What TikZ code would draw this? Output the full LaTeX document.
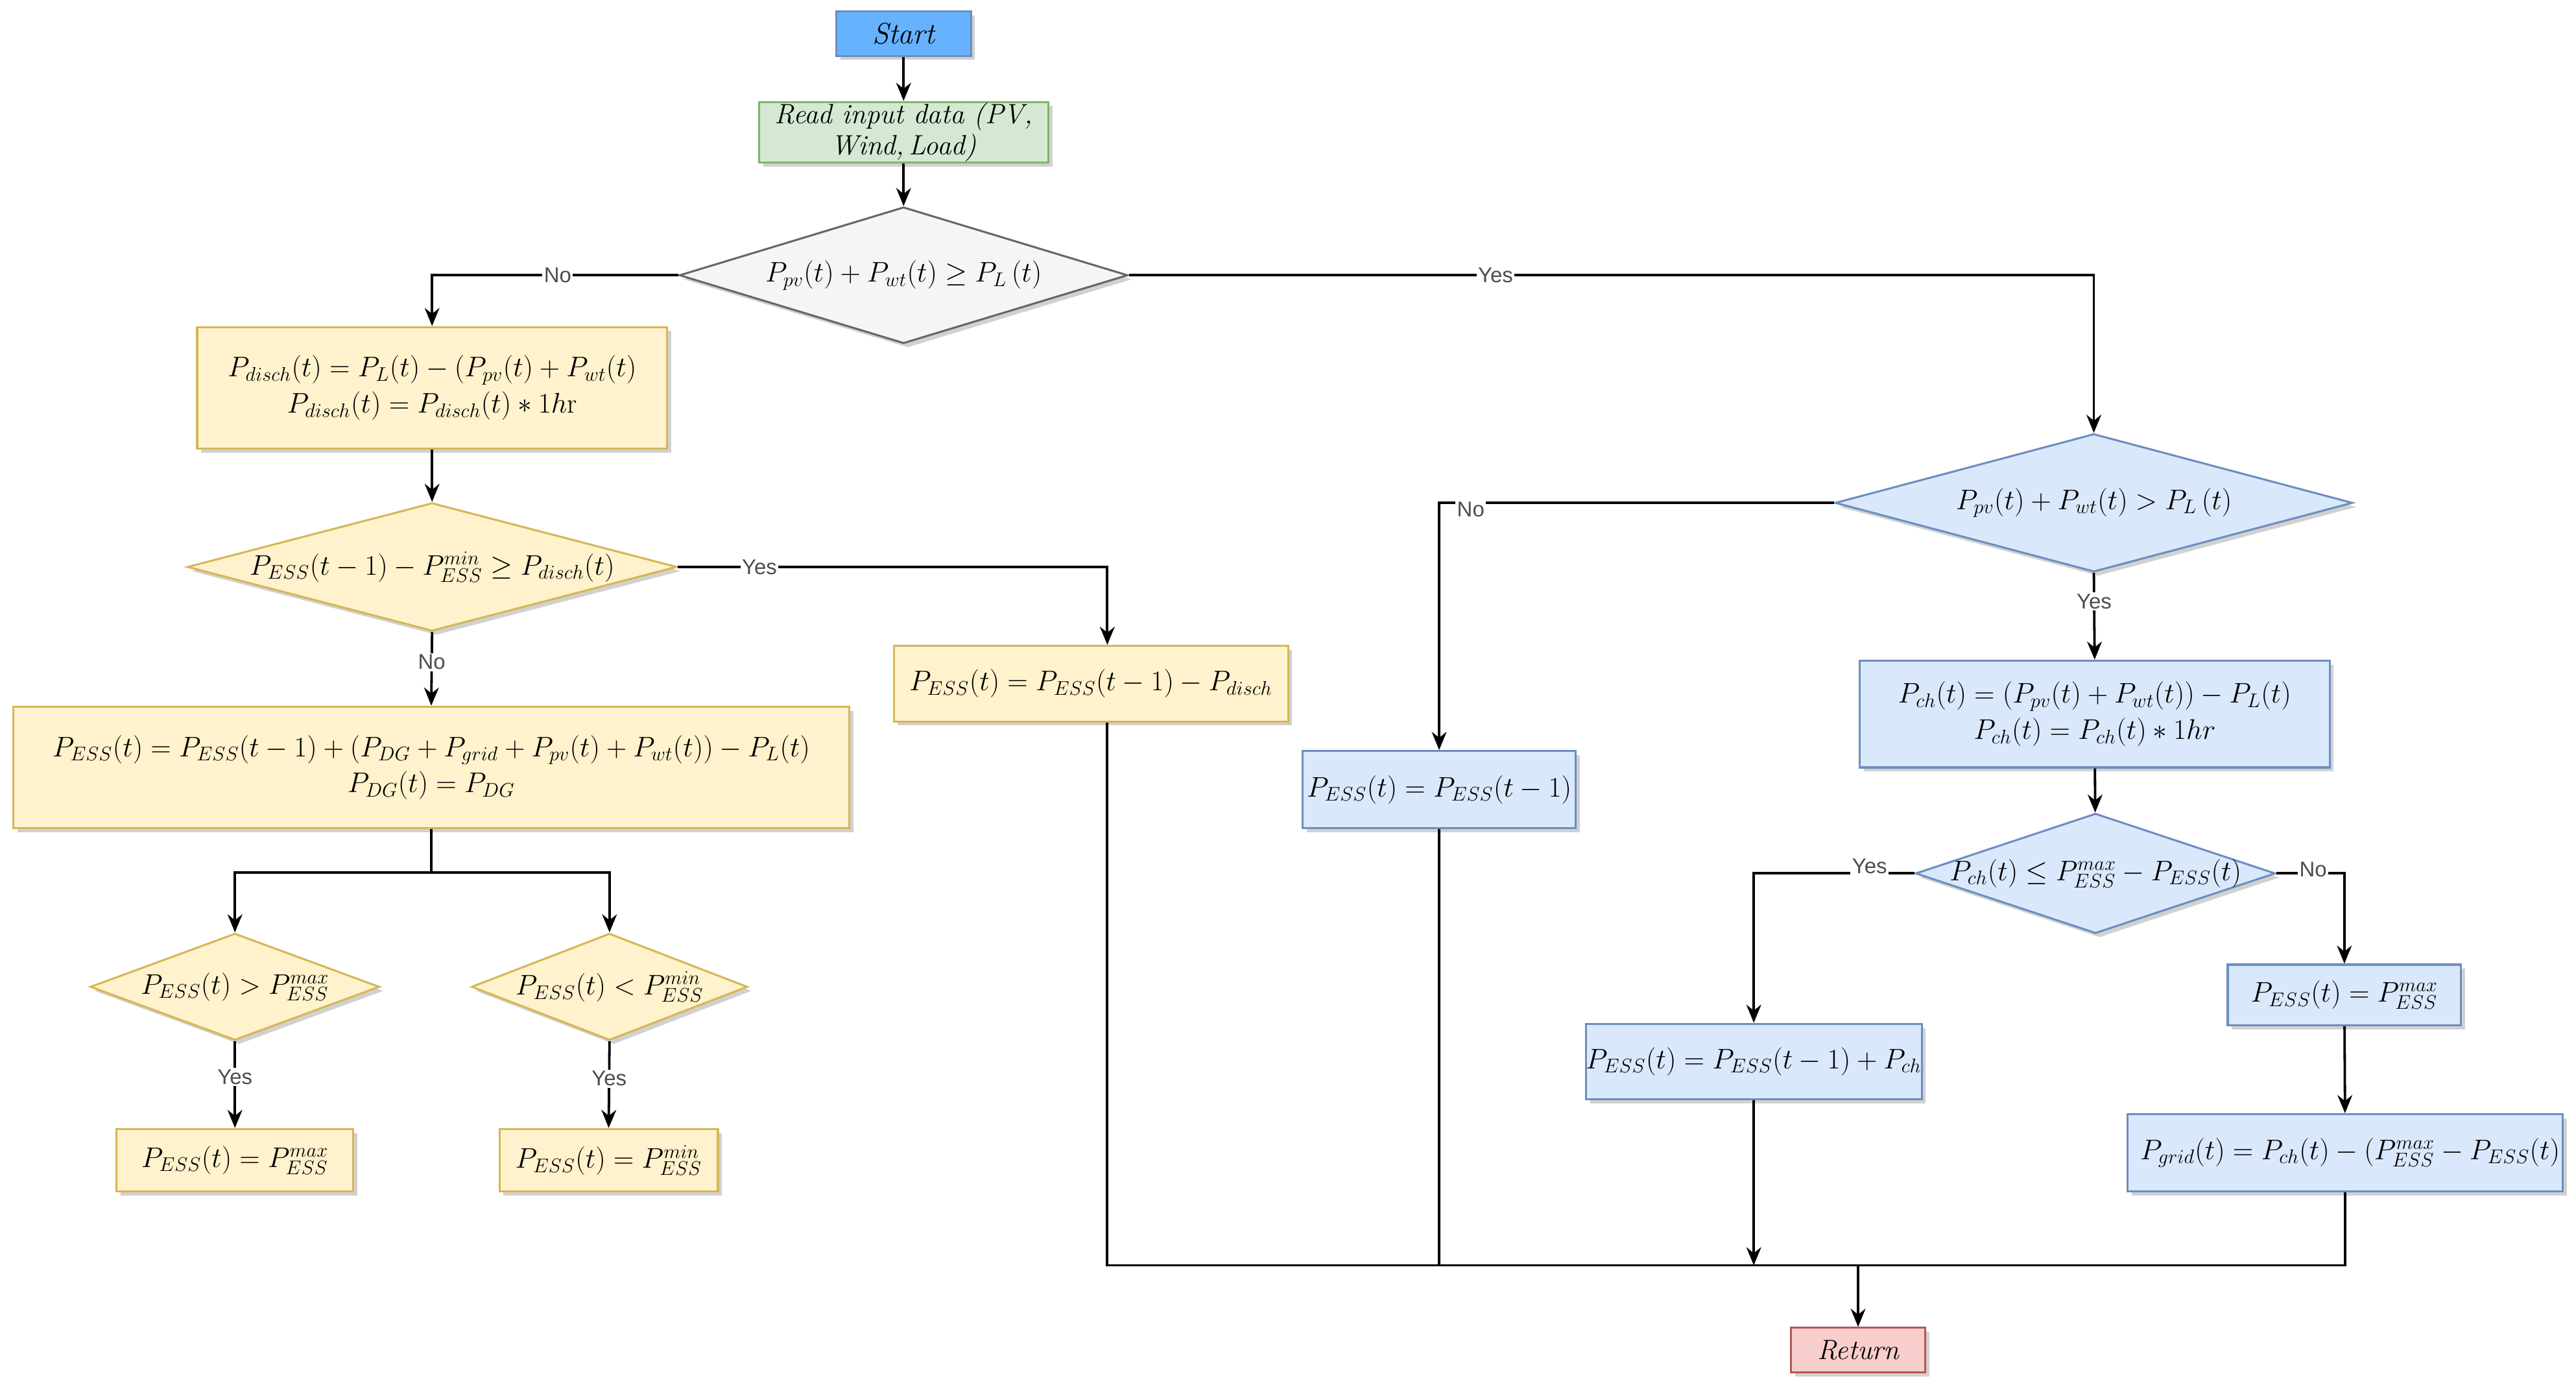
\documentclass[tikz,border=0pt]{standalone}
\usepackage{fontspec}
\newfontfamily\labelfont{Liberation Sans}
\usetikzlibrary{shapes.geometric,arrows.meta,shadows}
\definecolor{startfill}{HTML}{66B2FF}
\definecolor{startdraw}{HTML}{6C8EBF}
\definecolor{gfill}{HTML}{D5E8D4}
\definecolor{gdraw}{HTML}{82B366}
\definecolor{grfill}{HTML}{F5F5F5}
\definecolor{grdraw}{HTML}{666666}
\definecolor{yfill}{HTML}{FFF2CC}
\definecolor{ydraw}{HTML}{D6B656}
\definecolor{bfill}{HTML}{DAE8FC}
\definecolor{bdraw}{HTML}{6C8EBF}
\definecolor{rfill}{HTML}{F8CECC}
\definecolor{rdraw}{HTML}{B85450}
\definecolor{lblgray}{HTML}{4D4D4D}
\begin{document}
\begin{tikzpicture}[x=1pt,y=-1pt,
  shd/.style={drop shadow={shadow xshift=2.5pt,shadow yshift=-2.5pt,opacity=0.18,fill=black}},
  box/.style={rectangle,draw,line width=1.2pt,inner sep=0pt,align=center,shd,
    font=\fontsize{17}{22}\selectfont},
  yel/.style={box,fill=yfill,draw=ydraw},
  blu/.style={box,fill=bfill,draw=bdraw},
  dia/.style={diamond,draw,line width=1.2pt,inner sep=0pt,shd,
    font=\fontsize{17}{22}\selectfont},
  ydia/.style={dia,fill=yfill,draw=ydraw},
  bdia/.style={dia,fill=bfill,draw=bdraw},
  conn/.style={line width=1.5pt,draw=black,-{Stealth[length=11pt,width=9pt]}},
  plain/.style={line width=1.5pt,draw=black},
  lbl/.style={fill=white,inner sep=1pt,text=lblgray,font=\labelfont\fontsize{13}{14}\selectfont}
]
\useasboundingbox (0,0) rectangle (1568,842.8);

% ---- nodes ----
\node[box,fill=startfill,draw=startdraw,minimum width=82pt,minimum height=27pt,font=\fontsize{18}{20}\selectfont] (start) at (550,20.5) {\itshape Start};
\node[box,fill=gfill,draw=gdraw,minimum width=176pt,minimum height=37pt,font=\fontsize{17}{19}\selectfont] (read) at (550,80.5) {\itshape Read input data (PV,\\ \itshape Wind,\,Load)};
\node[dia,fill=grfill,draw=grdraw,minimum width=273pt,minimum height=83pt] (d1) at (550,167.5)
  {\makebox[0pt]{$P_{pv}(t)+P_{wt}(t)\geq P_L\,(t)$}};

\node[yel,minimum width=286pt,minimum height=74pt] (disch) at (263,236)
  {$P_{disch}(t)=P_L(t)-(P_{pv}(t)+P_{wt}(t)$\\ $P_{disch}(t)=P_{disch}(t)*1h\mathrm{r}$};
\node[ydia,minimum width=298pt,minimum height=78pt] (d2) at (263,345)
  {\makebox[0pt]{$P_{ESS}(t-1)-P_{ESS}^{min}\geq P_{disch}(t)$}};
\node[yel,minimum width=240pt,minimum height=46pt] (pdis2) at (664,416)
  {$P_{ESS}(t)=P_{ESS}(t-1)-P_{disch}$};
\node[yel,minimum width=509pt,minimum height=74pt] (big) at (262.5,467)
  {$P_{ESS}(t)=P_{ESS}(t-1)+(P_{DG}+P_{grid}+P_{pv}(t)+P_{wt}(t))-P_L(t)$\\ $P_{DG}(t)=P_{DG}$};
\node[ydia,minimum width=176pt,minimum height=65pt] (d3) at (143,600.5)
  {\makebox[0pt]{$P_{ESS}(t)>P_{ESS}^{max}$}};
\node[ydia,minimum width=168pt,minimum height=65pt] (d4) at (371,600.5)
  {\makebox[0pt]{$P_{ESS}(t)<P_{ESS}^{min}$}};
\node[yel,minimum width=144pt,minimum height=38pt] (max1) at (143,706)
  {$P_{ESS}(t)=P_{ESS}^{max}$};
\node[yel,minimum width=133pt,minimum height=38pt] (min1) at (370.5,706)
  {$P_{ESS}(t)=P_{ESS}^{min}$};

\node[bdia,minimum width=315pt,minimum height=84pt] (d5) at (1274.5,306)
  {\makebox[0pt]{$P_{pv}(t)+P_{wt}(t)>P_L\,(t)$}};
\node[blu,minimum width=166pt,minimum height=47pt] (same) at (876,480.5)
  {$P_{ESS}(t)=P_{ESS}(t-1)$};
\node[blu,minimum width=286pt,minimum height=65pt] (pch) at (1275,434.5)
  {$P_{ch}(t)=(P_{pv}(t)+P_{wt}(t))-P_L(t)$\\ $P_{ch}(t)=P_{ch}(t)*1hr$};
\node[bdia,minimum width=219pt,minimum height=73pt] (d6) at (1275.5,531.5)
  {\makebox[0pt]{$P_{ch}(t)\leq P_{ESS}^{max}-P_{ESS}(t)$}};
\node[blu,minimum width=203pt,minimum height=46pt] (plusch) at (1067.5,646)
  {$P_{ESS}(t)=P_{ESS}(t-1)+P_{ch}$};
\node[blu,minimum width=142pt,minimum height=37pt] (max2) at (1427,605.5)
  {$P_{ESS}(t)=P_{ESS}^{max}$};
\node[blu,minimum width=265pt,minimum height=47pt] (grid) at (1427.5,701.5)
  {\hspace*{6pt}$P_{grid}(t)=P_{ch}(t)-(P_{ESS}^{max}-P_{ESS}(t)$};
\node[box,fill=rfill,draw=rdraw,minimum width=82pt,minimum height=27pt] (ret) at (1131,821.5) {\itshape Return};

% ---- bus coordinates ----
\coordinate (split) at (262.5,531);
\coordinate (busL) at (674,770);
\coordinate (busR) at (1427.5,770);
\coordinate (busP) at (1067.5,770);

% ---- connectors ----
\draw[conn] (start) -- (read);
\draw[conn] (read) -- (d1);
\draw[conn] (d1.west) -| node[lbl,pos=0.245] (lno1) {No} (disch.north);
\draw[conn] (d1.east) -| node[lbl,pos=0.19] (lyes1) {Yes} (d5.north);
\draw[conn] (disch) -- (d2);
\draw[conn] (d2.east) -| node[lbl,pos=0.095] (lyes2) {Yes} ([xshift=10pt]pdis2.north);
\draw[conn] (d2.south) -- node[lbl,pos=0.41] (lno2) {No} (big.north);
\draw[plain] (big.south) -- (split);
\draw[conn] (split) -| (d3.north);
\draw[conn] (split) -| (d4.north);
\draw[conn] (d3.south) -- node[lbl,pos=0.41] (lyes3) {Yes} (max1.north);
\draw[conn] (d4.south) -- node[lbl,pos=0.43] (lyes4) {Yes} (min1.north);

\draw[conn] (d5.west) -| node[lbl,pos=0.46,yshift=-4pt] (lno3) {No} (same.north);
\draw[conn] (d5.south) -- node[lbl,pos=0.33] (lyes5) {Yes} (pch.north);
\draw[conn] (pch) -- (d6);
\draw[conn] (d6.west) -| node[lbl,pos=0.14,anchor=south,yshift=-2pt] (lyes6) {Yes} (plusch.north);
\draw[conn] (d6.east) -| node[lbl,pos=0.27,anchor=south,yshift=-4pt] (lno4) {No} (max2.north);
\draw[conn] (max2) -- (grid);

\draw[plain] ([xshift=10pt]pdis2.south) -- (busL) -- (busR) -- (grid.south);
\draw[plain] (same.south) -- (same.south |- busL);
\draw[conn] (plusch.south) -- (busP);
\draw[conn] (ret.north |- busL) -- (ret.north);
\end{tikzpicture}
\end{document}
